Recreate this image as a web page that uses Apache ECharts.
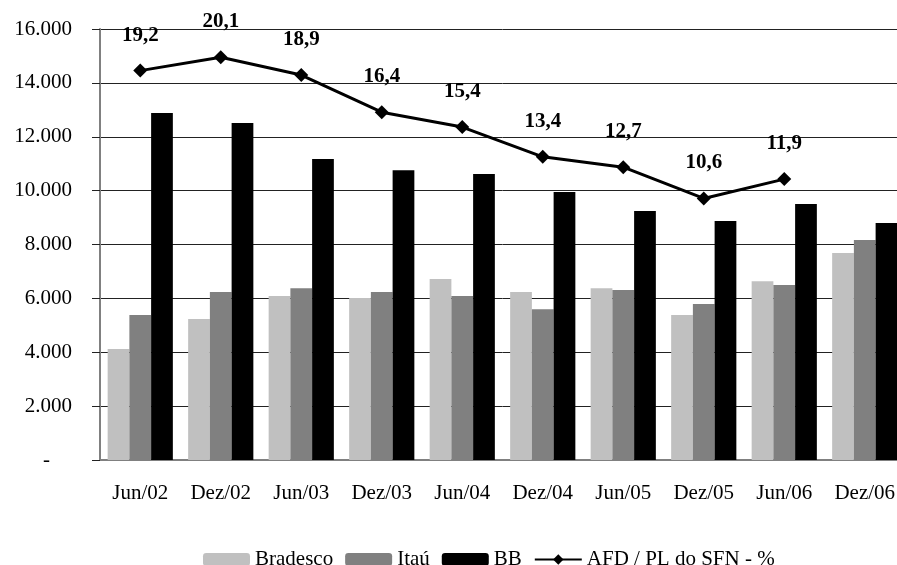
<!DOCTYPE html>
<html>
<head>
<meta charset="utf-8">
<script src="https://cdn.jsdelivr.net/npm/echarts@6/dist/echarts.min.js"></script>
<style>
  html, body { margin: 0; padding: 0; background: #fff; overflow: hidden; }
  #main { width: 905px; height: 565px; }
</style>
</head>
<body>
<div id="main"></div>
<script>
// periodos
var periodos = ['Jun/02', 'Dez/02', 'Jun/03', 'Dez/03', 'Jun/04', 'Dez/04', 'Jun/05', 'Dez/05', 'Jun/06', 'Dez/06'];

// valores dos bancos
var bradesco = [4120, 5230, 6090, 6010, 6720, 6240, 6380, 5380, 6640, 7680];
var itau = [5380, 6240, 6380, 6240, 6090, 5600, 6310, 5790, 6500, 8170];
var bb = [12880, 12510, 11170, 10760, 10620, 9950, 9240, 8870, 9500, 8800];

// AFD / PL do SFN - %
var afdPl = [19.2, 20.1, 18.9, 16.4, 15.4, 13.4, 12.7, 10.6, 11.9, null];

var serif = '"Liberation Serif", "Times New Roman", serif';

var myChart = echarts.init(document.getElementById('main'));

var option = {
    animation: false,
    backgroundColor: '#fff',
    textStyle: { fontFamily: serif, color: '#000' },
    // o grafico original corta a ultima coluna na borda direita
    grid: { left: 100, top: 29, right: 0, height: 431 },
    legend: {
        left: 198,
        top: 544,
        itemWidth: 47,
        itemHeight: 13,
        itemGap: 12,
        textStyle: { fontFamily: serif, fontSize: 21, color: '#000' },
        data: ['Bradesco', 'Itaú', 'BB', 'AFD / PL do SFN - %']
    },
    xAxis: {
        type: 'category',
        data: periodos,
        axisLine: { lineStyle: { color: '#808080', width: 2 } },
        axisTick: { show: false },
        axisLabel: { margin: 23, fontFamily: serif, fontSize: 21, color: '#000' }
    },
    yAxis: [{
        type: 'value',
        min: 0,
        max: 16000,
        interval: 2000,
        axisLine: { show: true, lineStyle: { color: '#808080', width: 2 } },
        axisTick: { show: true, length: 8, lineStyle: { color: '#222' } },
        splitLine: { lineStyle: { color: '#222', width: 1 } },
        axisLabel: {
            margin: 28,
            fontFamily: serif,
            fontSize: 21,
            color: '#000',
            formatter: function (v) {
                if (v === 0) return '{z|-}';
                return (v / 1000).toFixed(3);
            },
            rich: {
                z: { fontFamily: serif, fontSize: 21, color: '#000', padding: [0, 22, 0, 0] }
            }
        }
    }, {
        type: 'value',
        min: -7,
        max: 22,
        show: false,
        splitLine: { show: false }
    }],
    series: [{
        name: 'Bradesco',
        type: 'bar',
        data: bradesco,
        barGap: '0%',
        barCategoryGap: '19%',
        itemStyle: { color: '#C0C0C0' }
    }, {
        name: 'Itaú',
        type: 'bar',
        data: itau,
        itemStyle: { color: '#808080' }
    }, {
        name: 'BB',
        type: 'bar',
        data: bb,
        itemStyle: { color: '#000000' }
    }, {
        name: 'AFD / PL do SFN - %',
        type: 'line',
        yAxisIndex: 1,
        data: afdPl,
        symbol: 'diamond',
        symbolSize: 14,
        lineStyle: { color: '#000', width: 3 },
        itemStyle: { color: '#000' },
        label: {
            show: true,
            position: 'top',
            distance: 18,
            fontFamily: serif,
            fontSize: 21,
            fontWeight: 'bold',
            color: '#000',
            formatter: function (p) {
                return p.value == null ? '' : String(p.value.toFixed(1)).replace('.', ',');
            }
        }
    }]
};

myChart.setOption(option);
</script>
</body>
</html>
